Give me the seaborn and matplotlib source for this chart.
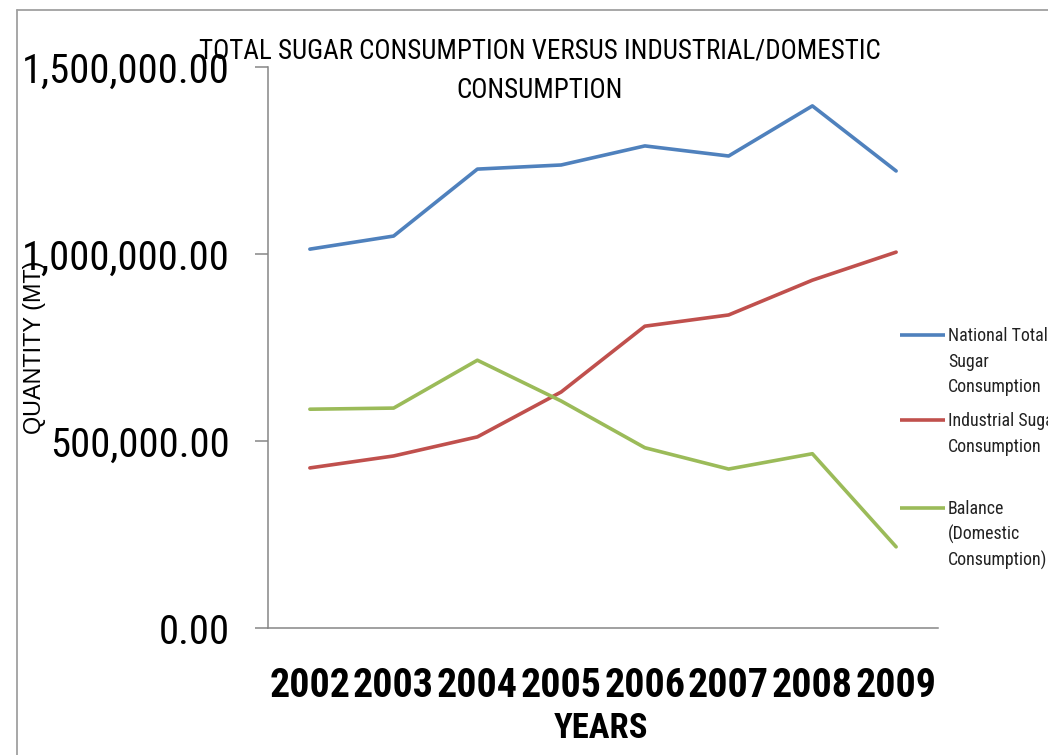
import os
import numpy as np
import pandas as pd
import seaborn as sns
import matplotlib
matplotlib.use("Agg")
import matplotlib.pyplot as plt
from matplotlib.lines import Line2D
from matplotlib import font_manager as fm
from matplotlib.textpath import TextPath

# ---- data -------------------------------------------------------------
years = ["2002", "2003", "2004", "2005", "2006", "2007", "2008", "2009"]
national_total = [1013000, 1048000, 1227000, 1238000, 1289000, 1262000, 1396000, 1222000]
industrial = [428000, 460000, 511000, 631000, 807000, 837000, 930000, 1005000]
balance = [585000, 588000, 716000, 607000, 482000, 425000, 466000, 217000]

series_names = [
    "National Total Sugar Consumption",
    "Industrial Sugar Consumption",
    "Balance (Domestic Consumption)",
]
legend_lines = [
    ["National Total", "Sugar", "Consumption"],
    ["Industrial Sugar", "Consumption"],
    ["Balance", "(Domestic", "Consumption)"],
]
colors = ["#4F81BD", "#C0504D", "#9BBB59"]
y_ticks = [0, 500000, 1000000, 1500000]

title_lines = ["TOTAL SUGAR CONSUMPTION VERSUS INDUSTRIAL/DOMESTIC", "CONSUMPTION"]


# ---- fonts: prefer a condensed face, size each text to a target width ----
def condensed_face(weight):
    fams = ["Liberation Sans Narrow", "Roboto Condensed", "Noto Sans Condensed",
            "Open Sans Condensed", "DejaVu Sans Condensed",
            "Noto Sans", "Open Sans", "Roboto", "DejaVu Sans"]
    for fam in fams:
        for st in ("condensed", "semi-condensed"):
            try:
                path = fm.findfont(fm.FontProperties(family=fam, stretch=st, weight=weight),
                                   fallback_to_default=False)
            except ValueError:
                continue
            base = os.path.basename(path).lower()
            if "condensed" in base or "narrow" in base:
                return path
    try:
        return fm.findfont(fm.FontProperties(family="Liberation Sans", weight=weight),
                           fallback_to_default=False)
    except ValueError:
        return fm.findfont(fm.FontProperties(family="DejaVu Sans", weight=weight))


REG = condensed_face("normal")
BOLD = condensed_face("bold")
try:
    WIDE = fm.findfont(fm.FontProperties(family="Liberation Sans"), fallback_to_default=False)
except ValueError:
    WIDE = fm.findfont(fm.FontProperties(family="DejaVu Sans"))

DPI = 100


def fitted(path, text, target_px, max_cap_px=None):
    """FontProperties from a font file, sized so the text's ink is target_px wide."""
    probe = fm.FontProperties(fname=path, size=100)
    ext = TextPath((0, 0), text, prop=probe).get_extents()
    size = 100 * target_px / (ext.width * DPI / 72)
    if max_cap_px is not None:
        cap = TextPath((0, 0), "H", prop=probe).get_extents().height * DPI / 72
        size = min(size, 100 * max_cap_px / cap)
    return fm.FontProperties(fname=path, size=size)


df = pd.DataFrame({
    "pos": np.tile(np.arange(len(years)), 3),
    "value": national_total + industrial + balance,
    "series": np.repeat(series_names, len(years)),
})

sns.set_style("white")
plt.rcParams["font.family"] = ["Liberation Sans", "DejaVu Sans"]
plt.rcParams["text.color"] = "black"

W, H = 1048, 755
fx = lambda px: px / W
fy = lambda py: 1 - py / H

fig = plt.figure(figsize=(W / DPI, H / DPI), dpi=DPI)
fig.patch.set_facecolor("white")

# outer chart frame
frame_c = "#a0a0a0"
fig.add_artist(Line2D([fx(17), 1.0], [fy(10), fy(10)], transform=fig.transFigure, color=frame_c, lw=1.3))
fig.add_artist(Line2D([fx(17), fx(17)], [fy(10), 0.0], transform=fig.transFigure, color=frame_c, lw=1.3))

ax = fig.add_axes([fx(268), fy(628), fx(938) - fx(268), fy(67) - fy(628)])
sns.lineplot(data=df, x="pos", y="value", hue="series", hue_order=series_names,
             palette=colors, linewidth=2.6, legend=False, ax=ax)

axis_c = "#868686"
ax.set_xlim(-0.5, len(years) - 0.5)
ax.set_ylim(0, 1500000)

# category boundaries carry the tick marks, centres carry the labels
ax.set_xticks(np.arange(-0.5, len(years), 1.0))
ax.set_xticklabels([])
ax.set_xticks(np.arange(len(years)), minor=True)
ax.set_xticklabels(years, minor=True)
fp_x = fitted(BOLD, "2002", 78, max_cap_px=38)
for lab in ax.get_xticklabels(minor=True):
    lab.set_fontproperties(fp_x)
ax.tick_params(axis="x", which="major", direction="out", length=12, width=1.1, color=axis_c)
ax.tick_params(axis="x", which="minor", length=0, pad=28, labelcolor="black")

ax.set_yticks(y_ticks)
ax.set_yticklabels([f"{v:,.2f}" for v in y_ticks])
fp_y = fitted(REG, "1,500,000.00", 206, max_cap_px=29)
for lab in ax.get_yticklabels():
    lab.set_fontproperties(fp_y)
ax.tick_params(axis="y", direction="out", length=9.4, width=1.1, color=axis_c, pad=18,
               left=True, labelcolor="black")

ax.set_xlabel("")
ax.set_ylabel("")
for side in ("top", "right"):
    ax.spines[side].set_visible(False)
for side in ("left", "bottom"):
    ax.spines[side].set_color(axis_c)
    ax.spines[side].set_linewidth(1.1)
ax.grid(False)

# titles
fp_title = fitted(REG, title_lines[0], 680, max_cap_px=20)
fig.text(fx(540), fy(51), title_lines[0], ha="center", va="center", fontproperties=fp_title)
fig.text(fx(540), fy(90), title_lines[1], ha="center", va="center", fontproperties=fp_title)
fp_ylab = fitted(WIDE, "QUANTITY (MT)", 171, max_cap_px=17)
fig.text(fx(35), fy(347), "QUANTITY (MT)", rotation=90, ha="center", va="center",
         fontproperties=fp_ylab)
fp_xlab = fitted(BOLD, "YEARS", 93, max_cap_px=34)
fig.text(fx(601), fy(728), "YEARS", ha="center", va="center", fontproperties=fp_xlab)

# legend on the right, handle level with the first text line
fp_leg = fitted(REG, "National Total", 97, max_cap_px=14)
first_y = [335, 420, 508]
pitch = 25.5
for color, lines, y0 in zip(colors, legend_lines, first_y):
    fig.add_artist(Line2D([fx(900), fx(945)], [fy(y0), fy(y0)], transform=fig.transFigure,
                          color=color, lw=2.6, solid_capstyle="butt"))
    for j, line in enumerate(lines):
        fig.text(fx(948), fy(y0 + j * pitch + 6.5), line, ha="left", va="baseline",
                 fontproperties=fp_leg, color="#222222")

fig.savefig("out.png", dpi=DPI, facecolor="white")
